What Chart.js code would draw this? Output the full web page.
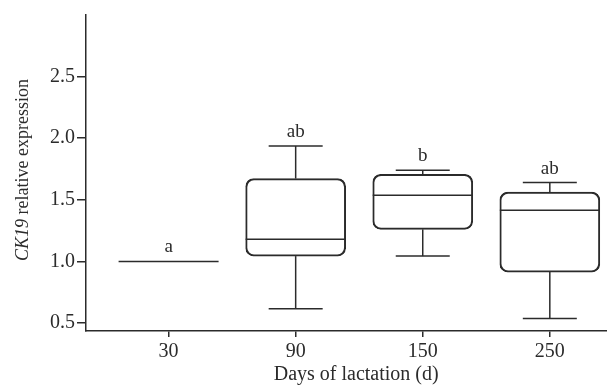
<!DOCTYPE html>
<html>
<head>
<meta charset="utf-8">
<script src="https://cdn.jsdelivr.net/npm/chart.js@4"></script>
<style>
    body { margin: 0; background: #fff; }
    #wrap { width: 607px; height: 389px; }
</style>
</head>
<body>
<div id="wrap"><canvas id="box-chart" width="607" height="389"></canvas></div>
<script>
// days of lactation groups
const categories = ['30', '90', '150', '250'];
const whiskerLow = [1.0, 0.615, 1.043, 0.537];
const q1 = [1.0, 1.043, 1.26, 0.913];
const median = [1.0, 1.179, 1.537, 1.415];
const q3 = [1.0, 1.672, 1.707, 1.563];
const whiskerHigh = [1.0, 1.937, 1.74, 1.64];
const letters = ['a', 'ab', 'b', 'ab'];
const yTicks = [0.5, 1.0, 1.5, 2.0, 2.5];

const INK = '#2b2b2b';
const SERIF = "'Liberation Serif', 'DejaVu Serif', serif";
const BOX_W = 100;
const CAP_HALF = 27;

// floating bars are the boxes (q1..q3); a group with no spread gets no box
const boxData = categories
    .map((c, i) => (q3[i] > q1[i] ? { x: i, y: [q1[i], q3[i]] } : null))
    .filter(Boolean);

const boxExtras = {
    id: 'boxExtras',
    afterDatasetsDraw(chart) {
        const { ctx, scales: { x, y } } = chart;
        ctx.save();
        ctx.strokeStyle = INK;
        ctx.lineWidth = 1.5;
        categories.forEach((c, i) => {
            const cx = x.getPixelForValue(i);
            const line = (x1, y1, x2, y2) => {
                ctx.beginPath();
                ctx.moveTo(x1, y1);
                ctx.lineTo(x2, y2);
                ctx.stroke();
            };
            // median
            const my = y.getPixelForValue(median[i]);
            line(cx - BOX_W / 2, my, cx + BOX_W / 2, my);
            // whiskers + caps
            if (whiskerHigh[i] > q3[i]) {
                const top = y.getPixelForValue(whiskerHigh[i]);
                line(cx, y.getPixelForValue(q3[i]), cx, top);
                line(cx - CAP_HALF, top, cx + CAP_HALF, top);
            }
            if (whiskerLow[i] < q1[i]) {
                const bot = y.getPixelForValue(whiskerLow[i]);
                line(cx, y.getPixelForValue(q1[i]), cx, bot);
                line(cx - CAP_HALF, bot, cx + CAP_HALF, bot);
            }
            // significance letters
            ctx.fillStyle = INK;
            ctx.font = `19px ${SERIF}`;
            ctx.textAlign = 'center';
            ctx.textBaseline = 'middle';
            ctx.fillText(letters[i], cx, y.getPixelForValue(whiskerHigh[i]) - 14);
        });

        // x title
        ctx.font = `20px ${SERIF}`;
        ctx.textAlign = 'center';
        ctx.textBaseline = 'alphabetic';
        ctx.fillText('Days of lactation (d)', x.getPixelForValue(1.5) - 3, 380);

        // y title, italic gene name
        const part1 = 'CK19';
        const part2 = ' relative expression';
        ctx.font = `italic 18px ${SERIF}`;
        const w1 = ctx.measureText(part1).width;
        ctx.font = `18px ${SERIF}`;
        const w2 = ctx.measureText(part2).width;
        ctx.translate(23, (y.top + y.bottom) / 2 - 3);
        ctx.rotate(-Math.PI / 2);
        ctx.textAlign = 'left';
        ctx.textBaseline = 'middle';
        ctx.font = `italic 18px ${SERIF}`;
        ctx.fillText(part1, -(w1 + w2) / 2, 0);
        ctx.font = `18px ${SERIF}`;
        ctx.fillText(part2, -(w1 + w2) / 2 + w1, 0);
        ctx.restore();
    }
};

new Chart(document.getElementById('box-chart').getContext('2d'), {
    type: 'bar',
    data: {
        datasets: [{
            data: boxData,
            backgroundColor: 'rgba(255,255,255,0)',
            borderColor: INK,
            borderWidth: 1.3,
            borderRadius: 8,
            borderSkipped: false,
            barThickness: BOX_W
        }]
    },
    options: {
        responsive: false,
        animation: false,
        layout: { padding: { top: 15, left: 0, right: 0, bottom: 0 } },
        plugins: { legend: { display: false }, tooltip: { enabled: false } },
        scales: {
            x: {
                type: 'linear',
                offset: false,
                min: -0.65,
                max: 3.45,
                afterBuildTicks: (s) => { s.ticks = categories.map((c, i) => ({ value: i })); },
                afterFit: (s) => { s.height = 58; },
                ticks: {
                    color: INK,
                    padding: 3,
                    font: { family: SERIF, size: 20 },
                    callback: (v) => categories[v]
                },
                grid: { offset: false, drawOnChartArea: false, tickLength: 6, color: INK, lineWidth: 1.5 },
                border: { display: true, color: INK, width: 1.5 }
            },
            y: {
                min: 0.435,
                max: 3.0,
                afterBuildTicks: (s) => { s.ticks = yTicks.map((v) => ({ value: v })); },
                afterFit: (s) => { s.width = 86; },
                ticks: {
                    color: INK,
                    padding: 2,
                    font: { family: SERIF, size: 20 },
                    callback: (v) => Number(v).toFixed(1)
                },
                grid: { drawOnChartArea: false, tickLength: 9, color: INK, lineWidth: 1.5 },
                border: { display: true, color: INK, width: 1.5 }
            }
        }
    },
    plugins: [boxExtras]
});
</script>
</body>
</html>
